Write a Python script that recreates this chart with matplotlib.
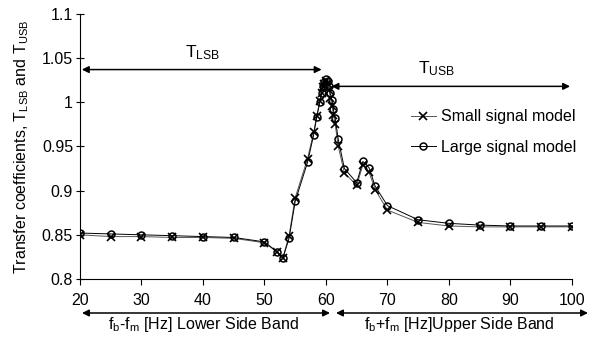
import numpy as np
import matplotlib
matplotlib.use('Agg')
import matplotlib.pyplot as plt

plt.rcParams['font.family'] = ['Liberation Sans', 'DejaVu Sans']
plt.rcParams['mathtext.fontset'] = 'custom'
plt.rcParams['mathtext.rm'] = 'Liberation Sans'
plt.rcParams['mathtext.it'] = 'Liberation Sans:italic'

# frecuencias (Hz)
freq = [20, 25, 30, 35, 40, 45, 50, 52, 53, 54, 55, 57, 58, 58.5, 59, 59.3, 59.5,
        59.7, 60, 60.3, 60.5, 60.7, 61, 61.2, 61.5, 62, 63, 65, 66, 67, 68, 70,
        75, 80, 85, 90, 95, 100]

large_signal = [0.852, 0.851, 0.850, 0.849, 0.848, 0.847, 0.842, 0.831, 0.824, 0.846,
                0.888, 0.932, 0.963, 0.983, 1.000, 1.010, 1.018, 1.023, 1.026, 1.024,
                1.018, 1.010, 1.002, 0.992, 0.982, 0.958, 0.925, 0.909, 0.933, 0.926,
                0.905, 0.883, 0.867, 0.863, 0.861, 0.860, 0.860, 0.860]

small_signal = [0.850, 0.848, 0.848, 0.847, 0.847, 0.846, 0.841, 0.831, 0.824, 0.849,
                0.892, 0.936, 0.966, 0.985, 1.001, 1.010, 1.017, 1.021, 1.024, 1.021,
                1.014, 1.005, 0.996, 0.986, 0.975, 0.950, 0.920, 0.906, 0.929, 0.921,
                0.901, 0.878, 0.864, 0.860, 0.859, 0.859, 0.859, 0.859]

fs = 11.5

fig = plt.figure(figsize=(5.97, 3.39), dpi=100)
ax = fig.add_axes([0.134, 0.177, 0.824, 0.782])

ax.plot(freq, small_signal, color='#555555', lw=0.7, marker='x', ms=5.5,
        mec='black', mew=1.2, label='Small signal model')
ax.plot(freq, large_signal, color='black', lw=0.7, marker='o', ms=5,
        mfc='none', mec='black', mew=1.1, label='Large signal model')

ax.set_xlim(20, 100)
ax.set_ylim(0.8, 1.1)
ax.set_xticks(range(20, 101, 10))
ax.set_yticks([0.8, 0.85, 0.9, 0.95, 1.0, 1.05, 1.1])
ax.set_yticklabels(['0.8', '0.85', '0.9', '0.95', '1', '1.05', '1.1'])
ax.spines['top'].set_visible(False)
ax.spines['right'].set_visible(False)
ax.tick_params(axis='y', direction='inout', length=6, labelsize=fs, pad=2)
ax.tick_params(axis='x', direction='out', length=4, labelsize=fs, pad=6)
ax.set_ylabel('Transfer coefficients, T$_{\\mathrm{LSB}}$ and T$_{\\mathrm{USB}}$', fontsize=fs)
ax.yaxis.set_label_coords(-0.099, 0.5)

arrow = dict(arrowstyle='<|-|>', color='black', lw=1.1, mutation_scale=10,
             shrinkA=0, shrinkB=0)
ax.annotate('', xy=(20.3, 1.037), xytext=(59.3, 1.037), arrowprops=arrow)
ax.annotate('', xy=(60.9, 1.018), xytext=(99.7, 1.018), arrowprops=arrow)
ax.text(40, 1.046, 'T$_{\\mathrm{LSB}}$', ha='center', va='bottom', fontsize=12.5)
ax.text(78, 1.027, 'T$_{\\mathrm{USB}}$', ha='center', va='bottom', fontsize=12.5)

# flechas de bandas bajo el eje
fig.patches.append(matplotlib.patches.FancyArrowPatch(
    (82 / 597, 1 - 313 / 339), (330 / 597, 1 - 313 / 339),
    transform=fig.transFigure, **arrow))
fig.patches.append(matplotlib.patches.FancyArrowPatch(
    (336 / 597, 1 - 313 / 339), (588 / 597, 1 - 313 / 339),
    transform=fig.transFigure, **arrow))
fig.text(204 / 597, 1 - 325 / 339, 'f$_{\\mathrm{b}}$-f$_{\\mathrm{m}}$ [Hz] Lower Side Band',
         ha='center', va='center', fontsize=fs)
fig.text(459 / 597, 1 - 325 / 339, 'f$_{\\mathrm{b}}$+f$_{\\mathrm{m}}$ [Hz]Upper Side Band',
         ha='center', va='center', fontsize=fs)

ax.legend(loc='upper left', bbox_to_anchor=(0.672, 0.64), frameon=False,
          fontsize=fs, handlelength=1.6, handletextpad=0.3, labelspacing=0.95,
          borderpad=0, borderaxespad=0)

plt.savefig('out.png', dpi=100)
